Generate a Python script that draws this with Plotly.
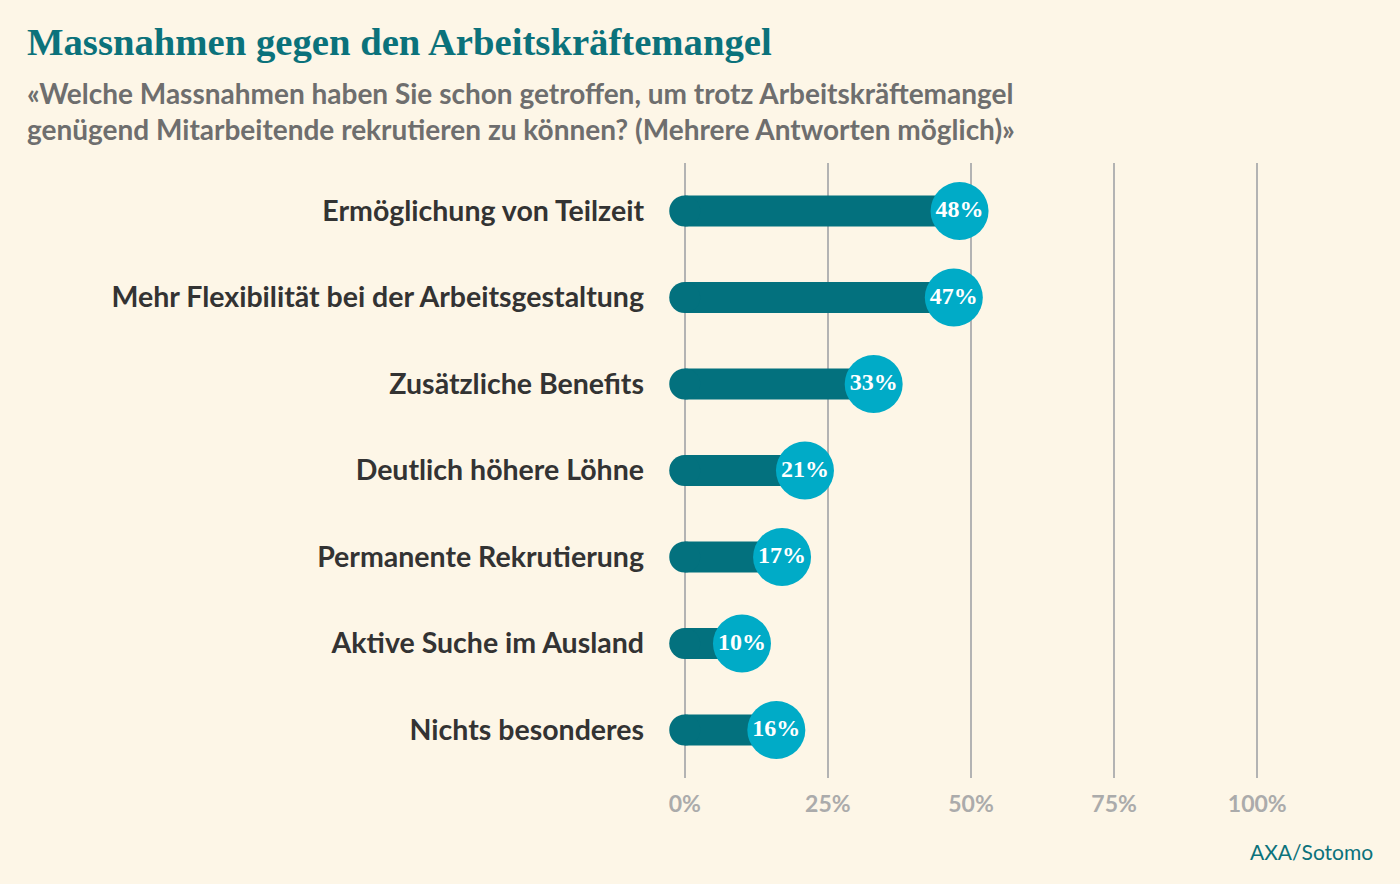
import plotly.graph_objects as go

categories = [
    "Ermöglichung von Teilzeit",
    "Mehr Flexibilität bei der Arbeitsgestaltung",
    "Zusätzliche Benefits",
    "Deutlich höhere Löhne",
    "Permanente Rekrutierung",
    "Aktive Suche im Ausland",
    "Nichts besonderes",
]
values = [48, 47, 33, 21, 17, 10, 16]
x_ticks = [0, 25, 50, 75, 100]
x_ticklabels = ["0%", "25%", "50%", "75%", "100%"]

W, H = 1400, 884
PXPCT = 5.72
L, R, T, B = 685 - PXPCT, 143 - PXPCT, 163, 106
PW = W - L - R
PH = H - T - B

BG = "#fdf6e7"
BAR = "#03717e"
DOT = "#00abc7"
TEAL = "#0b727b"

ys = list(range(len(categories)))

bx, by = [], []
for i, v in enumerate(values):
    bx += [0, v, None]
    by += [i, i, None]

fig = go.Figure()
fig.add_trace(go.Scatter(x=bx, y=by, mode="lines",
                         line=dict(color=BAR, width=31), hoverinfo="skip",
                         cliponaxis=False, showlegend=False))
fig.add_trace(go.Scatter(x=[0] * len(values), y=ys, mode="markers",
                         marker=dict(color=BAR, size=31, line=dict(width=0)),
                         hoverinfo="skip", cliponaxis=False, showlegend=False))
fig.add_trace(go.Scatter(x=values, y=ys, mode="markers+text",
                         text=[f"{v}%" for v in values], textposition="middle center",
                         textfont=dict(family="Liberation Serif", size=24, color="white", weight="bold"),
                         marker=dict(color=DOT, size=58, line=dict(width=0)),
                         cliponaxis=False, showlegend=False))

def px_x(p):
    return (p - L) / PW

def px_y(p):
    return 1 - (p - T) / PH

fig.update_layout(
    width=W, height=H,
    paper_bgcolor=BG, plot_bgcolor=BG,
    margin=dict(l=L, r=R, t=T, b=B),
    xaxis=dict(range=[-1, 101], tickvals=x_ticks, ticktext=x_ticklabels,
               showgrid=True, gridcolor="#b3b3b3", gridwidth=1.5,
               zeroline=False, showline=False, ticks="",
               tickfont=dict(family="Lato", size=23, color="#ababab", weight="bold"),
               ticklabelstandoff=10, fixedrange=True),
    yaxis=dict(range=[6.555, -0.555], tickvals=ys, ticktext=categories,
               showgrid=False, zeroline=False, showline=False, ticks="",
               tickfont=dict(family="Lato", size=28.5, color="#333333", weight="bold"),
               ticklabelstandoff=34, fixedrange=True),
    annotations=[
        dict(text="Massnahmen gegen den Arbeitskräftemangel", xref="paper", yref="paper",
             x=px_x(26), y=px_y(42), xanchor="left", yanchor="middle", showarrow=False,
             font=dict(family="Liberation Serif", size=38.7, color=TEAL, weight="bold")),
        dict(text="«Welche Massnahmen haben Sie schon getroffen, um trotz Arbeitskräftemangel",
             xref="paper", yref="paper", x=px_x(26), y=px_y(93), xanchor="left", yanchor="middle",
             showarrow=False, font=dict(family="Lato", size=28, color="#6e6e6e", weight="bold")),
        dict(text="genügend Mitarbeitende rekrutieren zu können? (Mehrere Antworten möglich)»",
             xref="paper", yref="paper", x=px_x(26), y=px_y(129), xanchor="left", yanchor="middle",
             showarrow=False, font=dict(family="Lato", size=28, color="#6e6e6e", weight="bold")),
        dict(text="AXA/Sotomo", xref="paper", yref="paper", x=px_x(1375), y=px_y(851),
             xanchor="right", yanchor="middle", showarrow=False,
             font=dict(family="Lato", size=21, color=TEAL)),
    ],
)

fig.write_html("out.html")
